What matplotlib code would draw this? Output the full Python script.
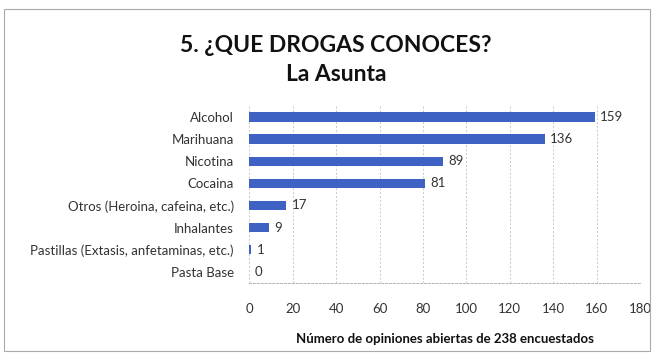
import matplotlib.pyplot as plt
from matplotlib.patches import Rectangle

# data
drogas = ['Alcohol', 'Marihuana', 'Nicotina', 'Cocaina',
          'Otros (Heroina, cafeina, etc.)', 'Inhalantes',
          'Pastillas (Extasis, anfetaminas, etc.)', 'Pasta Base']
opiniones = [159, 136, 89, 81, 17, 9, 1, 0]
ticks_x = [0, 20, 40, 60, 80, 100, 120, 140, 160, 180]

plt.rcParams['font.family'] = ['Lato', 'DejaVu Sans']

fig = plt.figure(figsize=(6.61, 3.58), dpi=100)
ax = fig.add_axes([0.377, 0.21, 0.5915, 0.494])

ypos = list(range(len(drogas)))[::-1]
ax.barh(ypos, opiniones, height=0.42, color='#3d62c4', zorder=3)
for y, v in zip(ypos, opiniones):
    ax.annotate(str(v), (v, y), xytext=(4, 0), textcoords='offset points',
                va='center', ha='left', fontsize=9.5, color='#333333')

ax.set_xlim(0, 180)
ax.set_ylim(-0.5, len(drogas) - 0.5)
ax.set_xticks(ticks_x)
ax.set_yticks(ypos)
ax.set_yticklabels(drogas)
ax.tick_params(axis='both', length=0, labelsize=9.5, colors='#333333')
ax.tick_params(axis='x', pad=14.5)
ax.tick_params(axis='y', pad=11)
ax.xaxis.grid(True, color='#c8c8c8', linestyle=(0, (2, 2)), linewidth=0.7, zorder=0)

for s in ['top', 'left', 'right']:
    ax.spines[s].set_visible(False)
ax.spines['bottom'].set_color('#b0b0b0')
ax.spines['bottom'].set_linestyle((0, (2, 2)))
ax.spines['bottom'].set_linewidth(0.7)

ax.set_xlabel('Número de opiniones abiertas de 238 encuestados',
              fontsize=9.5, fontweight='bold', labelpad=13, color='#111111')

fig.text(0.508, 0.872, '5. ¿QUE DROGAS CONOCES?', ha='center', va='center',
         fontsize=16.5, fontweight='bold', color='#111111')
fig.text(0.508, 0.792, 'La Asunta', ha='center', va='center',
         fontsize=16.5, fontweight='bold', color='#111111')

# chart frame
fig.patches.append(Rectangle((0.006, 0.02), 0.978, 0.955, transform=fig.transFigure,
                             fill=False, edgecolor='#aaaaaa', linewidth=0.8))

plt.savefig('out.png', dpi=100)
